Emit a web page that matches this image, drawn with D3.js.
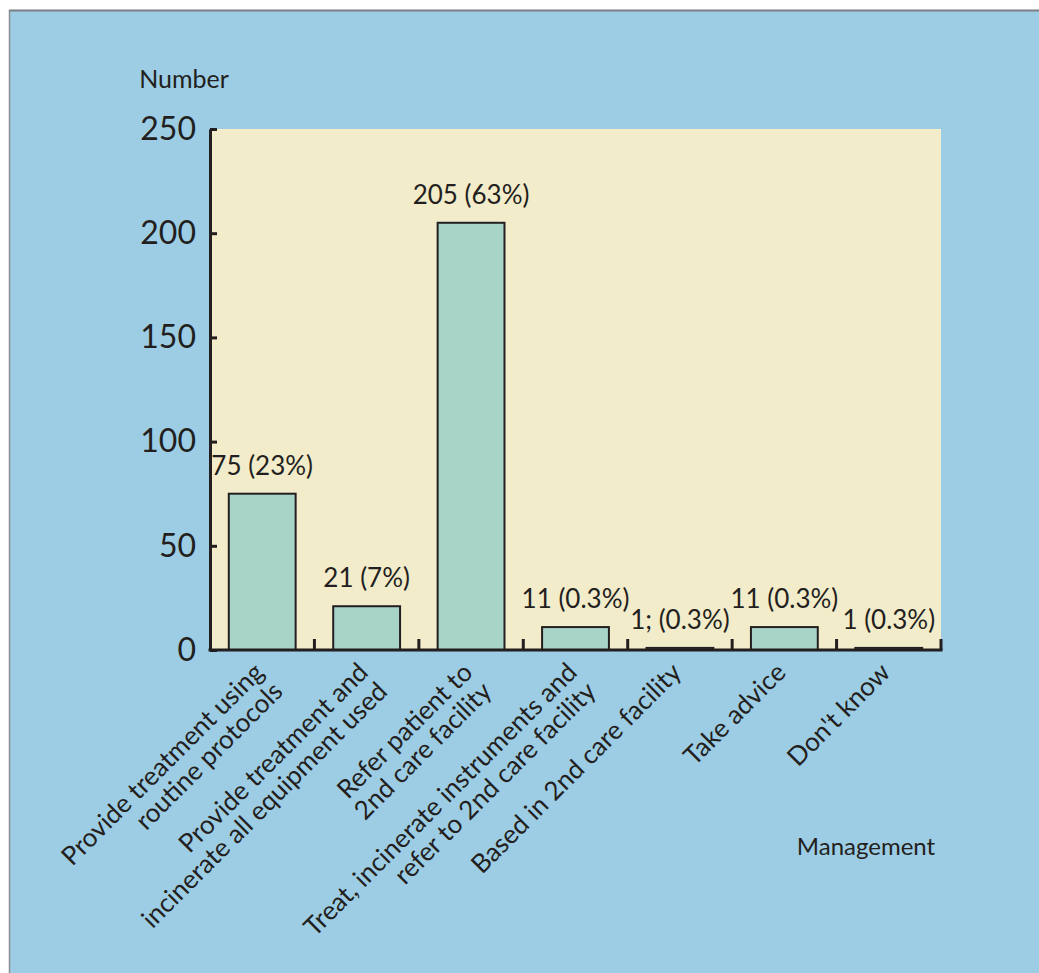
<!DOCTYPE html>
<html>
<head>
<meta charset="utf-8">
<script src="https://cdn.jsdelivr.net/npm/d3@7"></script>
<style>
  html, body { margin: 0; padding: 0; background: #ffffff; }
  svg { display: block; font-family: Lato, "Open Sans", sans-serif; }
</style>
</head>
<body>
<svg id="chart" width="1039" height="973"></svg>
<script>
// Management of cases: number of respondents per option
const categories = [
  "Provide treatment using routine protocols",
  "Provide treatment and incinerate all equipment used",
  "Refer patient to 2nd care facility",
  "Treat, incinerate instruments and refer to 2nd care facility",
  "Based in 2nd care facility",
  "Take advice",
  "Don't know"
];
const categoryLines = [
  ["Provide treatment using", "routine protocols"],
  ["Provide treatment and", "incinerate all equipment used"],
  ["Refer patient to", "2nd care facility"],
  ["Treat, incinerate instruments and", "refer to 2nd care facility"],
  ["Based in 2nd care facility"],
  ["Take advice"],
  ["Don't know"]
];
const counts = [75, 21, 205, 11, 1, 11, 1];
const valueLabels = ["75 (23%)", "21 (7%)", "205 (63%)", "11 (0.3%)", "1; (0.3%)", "11 (0.3%)", "1 (0.3%)"];
const yTicks = [0, 50, 100, 150, 200, 250];

const ink = "#231f20";
const svg = d3.select("#chart");

// page background panel
svg.append("rect").attr("x", 10).attr("y", 11).attr("width", 1040).attr("height", 970)
  .attr("fill", "#9dcde4");
svg.append("line").attr("x1", 9.5).attr("x2", 9.5).attr("y1", 10).attr("y2", 973)
  .attr("stroke", "#8a8f93").attr("stroke-width", 1.5);
svg.append("line").attr("x1", 9).attr("x2", 1039).attr("y1", 10.5).attr("y2", 10.5)
  .attr("stroke", "#7a7f84").attr("stroke-width", 2);

const plotLeft = 210, plotRight = 941, plotTop = 129, plotBottom = 650;

const x = d3.scaleBand().domain(categories).range([plotLeft, plotRight])
  .paddingInner(0.36).paddingOuter(0.18);
const y = d3.scaleLinear().domain([0, 250]).range([plotBottom, plotTop]);

// plot area
svg.append("rect").attr("x", plotLeft).attr("y", plotTop)
  .attr("width", plotRight - plotLeft).attr("height", plotBottom - plotTop)
  .attr("fill", "#f2ecca");

// bars
svg.append("g").selectAll("rect").data(counts).join("rect")
  .attr("x", (d, i) => x(categories[i]))
  .attr("y", d => y(d))
  .attr("width", x.bandwidth())
  .attr("height", d => y(0) - y(d))
  .attr("fill", "#a8d4c8")
  .attr("stroke", ink).attr("stroke-width", 2);

// value labels
svg.append("g").selectAll("text").data(counts).join("text")
  .attr("x", (d, i) => x(categories[i]) + x.bandwidth() / 2)
  .attr("y", d => y(d) - 19)
  .attr("text-anchor", "middle")
  .attr("font-size", 26)
  .attr("fill", ink)
  .text((d, i) => valueLabels[i]);

// y axis with inward ticks
const yAxis = svg.append("g").attr("transform", `translate(${plotLeft},0)`)
  .call(d3.axisLeft(y).tickValues(yTicks).tickSize(-7).tickSizeOuter(0).tickPadding(14));
yAxis.select(".domain").attr("stroke", ink).attr("stroke-width", 3);
yAxis.selectAll(".tick line").attr("stroke", ink).attr("stroke-width", 3);
yAxis.selectAll(".tick text").attr("font-size", 32).attr("fill", ink)
  .attr("font-family", "Lato, sans-serif");

// x axis with category boundary ticks
const boundaries = categories.map(c => x(c) - x.step() * x.paddingInner() / 2 + x.step());
const xAxis = svg.append("g").attr("transform", `translate(0,${plotBottom})`);
xAxis.append("line").attr("x1", plotLeft - 1.5).attr("x2", plotRight + 1.5)
  .attr("y1", 0).attr("y2", 0).attr("stroke", ink).attr("stroke-width", 3);
xAxis.selectAll("line.bt").data(boundaries).join("line").attr("class", "bt")
  .attr("x1", d => d).attr("x2", d => d).attr("y1", 0).attr("y2", -11)
  .attr("stroke", ink).attr("stroke-width", 3);

// rotated category labels: first line anchored under the bar, later lines below it
const lh = 27;
const cat = svg.append("g").selectAll("text").data(categoryLines).join("text")
  .attr("transform", (d, i) =>
    `translate(${x(categories[i]) + x.bandwidth() / 2 + 3},${plotBottom + 24}) rotate(-45)`)
  .attr("text-anchor", "end")
  .attr("font-size", 26)
  .attr("fill", ink);
cat.each(function(lines) {
  const t = d3.select(this);
  lines.forEach((s, j) => {
    t.append("tspan").attr("x", 0).attr("y", j * lh).text(s);
  });
});

// axis titles
svg.append("text").attr("x", 184).attr("y", 88).attr("text-anchor", "middle")
  .attr("font-size", 25).attr("fill", ink).text("Number");
svg.append("text").attr("x", 866).attr("y", 855).attr("text-anchor", "middle")
  .attr("font-size", 24).attr("fill", ink).text("Management");
</script>
</body>
</html>
